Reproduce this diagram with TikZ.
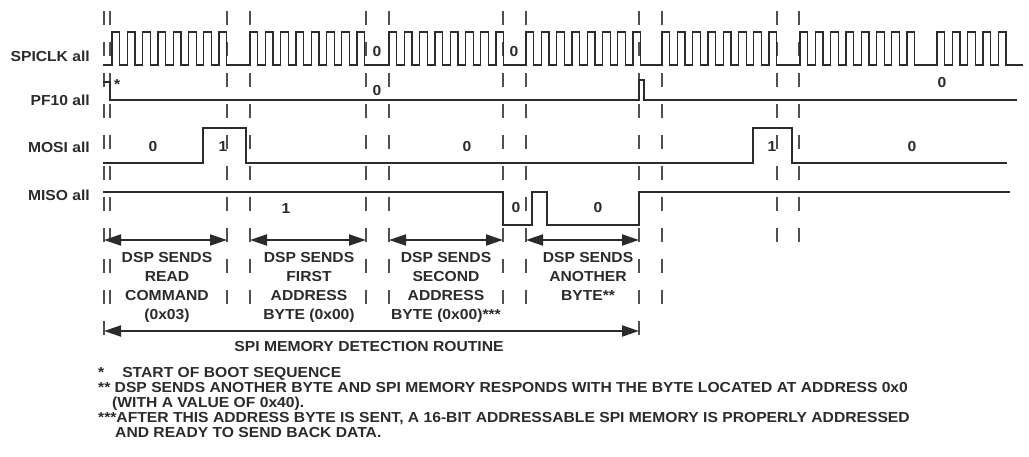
\documentclass[tikz,border=0pt]{standalone}
\usepackage{fontspec}
\setmainfont[FakeStretch=1.08]{Liberation Sans}
\usetikzlibrary{arrows.meta, positioning}
\definecolor{spidark}{HTML}{2B2B2B}
\definecolor{spigray}{HTML}{505050}
\tikzset{
  siglabel/.style={anchor=east, inner sep=0pt, font=\bfseries\fontsize{14.5}{17}\selectfont, text=spidark},
  bitval/.style={inner sep=0pt, font=\bfseries\fontsize{14.5}{17}\selectfont, text=spidark},
  phase/.style={anchor=north, inner sep=0pt, align=center, font=\bfseries\fontsize{14.5}{19}\selectfont, text=spidark},
  notelist/.style={anchor=north west, inner sep=0pt, align=left, font=\bfseries\fontsize{14.5}{15}\selectfont, text=spidark},
  marker/.style={draw=spigray, line width=1.2pt, dash pattern=on 14pt off 17pt},
  clkwave/.style={draw=spidark, line width=1.3pt},
  pfwave/.style={draw=spidark, line width=1.5pt},
  datawave/.style={draw=spidark, line width=2.2pt},
  spanarr/.style={{Triangle[length=17pt,width=11pt]}-{Triangle[length=17pt,width=11pt]}, line width=2pt, draw=spidark},
}

\begin{document}
\begin{tikzpicture}[x=1pt, y=-1pt]
  \useasboundingbox (0,0) rectangle (1029,457);
  \foreach \x/\yb in {104/338, 110/310, 227/307, 250/307, 366/307, 389/307, 503/307, 526/307, 639/335, 662/310, 777/252, 799/252}
    \draw[marker] (\x,11) -- (\x,\yb);

  \node[siglabel] (clk) at (90,56) {SPICLK all};
  \node[siglabel] (pf) at (90,100) {PF10 all};
  \node[siglabel] (mosi) at (90,147) {MOSI all};
  \node[siglabel] (miso) at (90,195) {MISO all};

  \draw[clkwave] (103,65)
    foreach \s in {112,250,389,526,662,800} {
      foreach \k in {0,...,7} {
        -- ({\s+15.3*\k},65) -- ({\s+15.3*\k},32) -- ({\s+15.3*\k+7.65},32) -- ({\s+15.3*\k+7.65},65)
      }
    }
    foreach \k in {0,...,4} {
      -- ({937+15.3*\k},65) -- ({937+15.3*\k},32) -- ({937+15.3*\k+7.65},32) -- ({937+15.3*\k+7.65},65)
    }
    -- (1023,65);
  \draw[pfwave] (103,82) -| (110,100) -- (639,100) |- (644,80) |- (1017,100);
  \draw[datawave] (103,163) -| (203,128) -| (246,163) -| (753,128) -| (792,163) -- (1007,163);
  \draw[datawave] (103,192) -| (503,225) -| (532,192) -| (547,225) -| (639,192) -- (1010,192);

  \foreach \x/\y/\v [count=\i] in {377/52/0, 514/52/0, 377/91/0, 942/83/0, 153/147/0, 223/147/1, 467/147/0, 772/147/1, 912/147/0, 286/209/1, 516/208/0, 598/208/0}
    \node[bitval] (bit\i) at (\x,\y) {\v};
  \node[bitval, anchor=base west] (boot) at (114,90) {*};

  \foreach \l/\r [count=\i] in {104/227, 250/366, 389/503, 526/639} {
    \coordinate (ph\i L) at (\l,240);
    \coordinate (ph\i R) at (\r,240);
    \draw[spanarr] (ph\i L) -- (ph\i R);
  }
  \node[phase] (rdcmd) at (167,252) {DSP SENDS\\READ\\COMMAND\\(0x03)};
  \node[phase] (addr1) at (309,252) {DSP SENDS\\FIRST\\ADDRESS\\BYTE (0x00)};
  \node[phase] (addr2) at (446,252) {DSP SENDS\\SECOND\\ADDRESS\\BYTE (0x00)***};
  \node[phase] (another) at (588,252) {DSP SENDS\\ANOTHER\\BYTE**};

  \coordinate (detL) at (104,331);
  \coordinate (detR) at (639,331);
  \draw[spanarr] (detL) -- (detR);
  \node[bitval] (detect) at (369,347) {SPI MEMORY DETECTION ROUTINE};

  \node[notelist] (notes) at (98,367) {*\hspace*{18pt}START OF BOOT SEQUENCE\\
    ** DSP SENDS ANOTHER BYTE AND SPI MEMORY RESPONDS WITH THE BYTE LOCATED AT ADDRESS 0x0\\
    \hspace*{14pt}(WITH A VALUE OF 0x40).\\
    ***AFTER THIS ADDRESS BYTE IS SENT, A 16-BIT ADDRESSABLE SPI MEMORY IS PROPERLY ADDRESSED\\
    \hspace*{17pt}AND READY TO SEND BACK DATA.};
\end{tikzpicture}
\end{document}
